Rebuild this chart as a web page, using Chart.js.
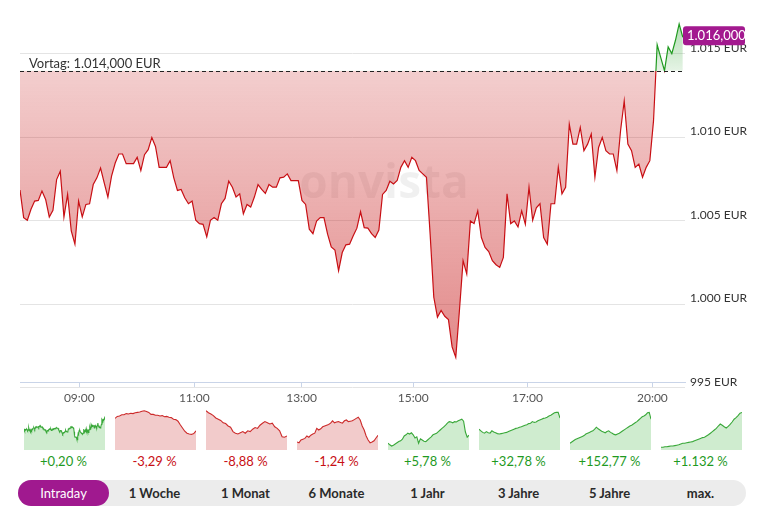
<!DOCTYPE html>
<html><head><meta charset="utf-8">
<script src="https://cdn.jsdelivr.net/npm/chart.js@4.4.0/dist/chart.umd.min.js"></script>
<style>
body{margin:0;background:#fff;font-family:Lato,'Open Sans',sans-serif;}
#wrap{position:relative;width:761px;height:513px;overflow:hidden;}
#main{position:absolute;left:0;top:0;}
.mini{position:absolute;top:410px;}
.row{position:absolute;left:18px;width:728px;display:flex;}
.row div{flex:1;text-align:center;}
#pct{top:452px;height:18px;font-size:13px;line-height:18px;}
#btns{top:480px;height:26px;background:#ececec;border-radius:13px;font-size:13px;line-height:26px;color:#2a2a2a;font-weight:bold;}
#btns .act{background:#a0198f;color:#fff;border-radius:13px;font-weight:normal;}
</style></head>
<body><div id="wrap">
<canvas id="main" width="761" height="410"></canvas>
<div id="pct" class="row"></div>
<div id="btns" class="row"></div>
</div>
<script>
const prevClose = 1014;
const lastPrice = 1016;
const intradayPrices = [
1006.85,1005.20,1005.04,1005.70,1006.19,1006.23,1006.79,1006.29,1005.24,1005.64,
1007.48,1007.98,1005.24,1006.59,1004.40,1003.61,1006.19,1005.24,1005.99,1006.03,
1007.18,1007.58,1008.17,1007.28,1006.43,1007.68,1008.47,1009.01,1009.01,1008.43,
1008.43,1008.43,1008.81,1008.02,1008.97,1009.27,1010.00,1009.46,1008.21,1008.21,
1008.21,1008.61,1007.58,1006.83,1006.89,1006.39,1006.03,1006.19,1005.04,1004.84,
1004.80,1004.05,1005.04,1005.20,1005.04,1006.03,1006.35,1007.38,1007.02,1006.43,
1006.62,1005.43,1005.99,1005.83,1006.43,1007.18,1006.89,1006.65,1007.18,1007.02,
1007.02,1007.58,1007.62,1007.82,1007.42,1007.42,1007.42,1006.23,1005.99,1004.51,
1004.24,1005.00,1005.20,1005.20,1004.21,1003.45,1003.26,1002.02,1003.11,1003.57,
1003.61,1004.11,1004.57,1005.55,1004.60,1004.57,1004.24,1004.01,1004.45,1006.59,
1006.83,1007.38,1007.22,1007.42,1008.21,1008.61,1008.21,1008.81,1008.61,1008.02,
1007.82,1007.62,1004.21,1000.43,999.24,999.64,999.29,999.09,997.46,996.83,
999.64,1002.62,1001.83,1005.00,1004.84,1005.60,1004.01,1003.41,1003.17,1002.62,
1002.38,1002.22,1002.82,1006.62,1004.84,1005.00,1004.64,1005.60,1004.80,1007.02,
1005.04,1005.79,1006.03,1004.01,1003.61,1006.03,1006.03,1008.21,1006.62,1007.02,
1010.79,1009.60,1009.60,1010.60,1009.21,1009.60,1010.20,1007.62,1009.40,1010.00,
1009.21,1009.01,1009.01,1008.02,1010.40,1012.18,1009.60,1009.21,1008.21,1008.41,
1007.62,1008.21,1008.61,1010.99,1015.55,1014.76,1014.00,1015.42,1015.02,1015.82,
1016.80,1016.00];
const xTickLabels = ['09:00','11:00','13:00','15:00','17:00','20:00'];
const xTickAt = [16.2, 47.6, 76.9, 107.4, 138.6, 172.7];
const yTicks = [995, 1000, 1005, 1010, 1015];

const periods = ['Intraday','1 Woche','1 Monat','6 Monate','1 Jahr','3 Jahre','5 Jahre','max.'];
const changes = ['+0,20 %','-3,29 %','-8,88 %','-1,24 %','+5,78 %','+32,78 %','+152,77 %','+1.132 %'];
// mini chart series (relative height in % of the mini chart box)
const week   = [79,84,85,88,88,91,90,92,91,93,94,95,97,98,96,94,89,89,87,87,85,86,83,84,82,81,77,76,72,63,55,47,42,40,39,41,48];
const month  = [98,93,90,86,80,77,74,68,66,60,57,46,42,40,43,46,42,48,46,52,56,54,62,67,71,68,65,67,58,54,48,33,32,35];
const sixMonths = [20,18,25,27,29,35,32,37,40,42,54,50,53,58,60,62,64,67,73,68,70,71,69,67,73,75,71,72,73,76,79,82,75,60,50,35,25,18,20,23,30,37];
const oneYear = [17,13,10,12,15,18,21,23,27,35,38,42,40,43,38,30,33,17,28,25,22,21,25,29,33,38,40,42,46,50,54,58,62,67,71,70,68,71,70,73,75,77,72,45,32,37];
const threeYears = [52,48,44,42,46,43,42,48,45,43,41,40,41,42,43,44,46,48,50,52,54,55,57,58,60,62,63,66,67,71,69,70,73,75,77,79,80,82,85,87,90,93,94,94,80];
const fiveYears = [17,20,23,26,28,30,32,34,36,40,42,44,46,48,52,57,53,50,47,45,43,46,48,44,42,39,38,40,42,45,48,51,54,57,60,62,65,68,71,75,79,83,85,88,93,94,77];
const maxSeries = [7,7,8,8,9,10,10,11,12,13,15,17,17,18,19,20,21,23,25,27,29,31,32,35,38,42,46,50,54,60,65,62,58,55,59,64,70,77,81,86,92,94];

const GREEN = '#1f9a1f', RED = '#c80f14';
const fmtNum = v => v >= 1000 ? Math.floor(v/1000) + '.' + String(Math.round(v % 1000)).padStart(3,'0') : String(v);

Chart.defaults.font.family = 'Lato, "Open Sans", sans-serif';
Chart.defaults.animation = false;

const overlay = {
  id: 'overlay',
  beforeDatasetsDraw(chart) {
    const c = chart.ctx;
    c.save();
    c.font = 'bold 46px "Open Sans"';
    c.fillStyle = 'rgba(0,0,0,0.06)';
    c.textAlign = 'center';
    c.textBaseline = 'alphabetic';
    c.fillText('onvista', 384, 198);
    c.restore();
  },
  afterDatasetsDraw(chart) {
    const c = chart.ctx, a = chart.chartArea, y = chart.scales.y;
    const py = Math.round(y.getPixelForValue(prevClose)) + 0.5;
    c.save();
    c.strokeStyle = '#222'; c.lineWidth = 1; c.setLineDash([4,3]);
    c.beginPath(); c.moveTo(a.left, py); c.lineTo(a.right, py); c.stroke();
    c.setLineDash([]);
    c.fillStyle = '#333'; c.font = '13px Lato';
    c.textAlign = 'left'; c.textBaseline = 'alphabetic';
    c.fillText('Vortag: ' + fmtNum(prevClose) + ',000 EUR', a.left + 9, py - 4);
    c.restore();
  },
  afterDraw(chart) {
    const c = chart.ctx, a = chart.chartArea, y = chart.scales.y;
    const py = y.getPixelForValue(lastPrice);
    c.save();
    c.fillStyle = '#a3198f';
    c.beginPath(); c.roundRect(a.right - 2, py - 11, 62, 19, 3); c.fill();
    c.fillStyle = '#fff'; c.font = '13px Lato';
    c.textAlign = 'left'; c.textBaseline = 'middle';
    c.fillText(fmtNum(lastPrice) + ',000', a.right + 2, py - 1);
    c.restore();
  }
};

const mainChart = new Chart(document.getElementById('main'), {
  type: 'line',
  data: {
    labels: intradayPrices.map((_, i) => i),
    datasets: [{
      data: intradayPrices.map((v, i) => ({x: i, y: v})),
      borderColor: RED, borderWidth: 1.2, pointRadius: 0, tension: 0,
      fill: {value: prevClose, above: 'rgba(40,160,40,0.3)', below: 'rgba(200,30,30,0.3)'}
    }]
  },
  options: {
    responsive: false,
    layout: {padding: {left: 20, top: 10, right: 0, bottom: 0}},
    plugins: {legend: {display: false}, tooltip: {enabled: false}},
    scales: {
      x: {
        type: 'linear', min: 0, max: 181.6,
        afterBuildTicks: s => { s.ticks = xTickAt.map(v => ({value: v})); },
        afterFit: s => { s.height = 28; },
        ticks: {autoSkip: false, maxRotation: 0, padding: 3, color: '#555', font: {size: 12},
                callback: (v, i) => xTickLabels[i]},
        grid: {drawOnChartArea: false, tickLength: 6, color: '#c9d4e8'},
        border: {display: true, color: '#c9d4e8'}
      },
      y: {
        position: 'right', min: 995.357, max: 1017.5,
        afterBuildTicks: s => { s.ticks = yTicks.map(v => ({value: v})); },
        afterFit: s => { s.width = 76; },
        ticks: {padding: 5, labelOffset: -6, color: '#333', font: {size: 12},
                callback: v => fmtNum(v) + ' EUR'},
        grid: {drawTicks: false, tickLength: 0, color: '#e4e4e4'},
        border: {display: false}
      }
    }
  },
  plugins: [overlay]
});

(function applyGradients(chart) {
  const a = chart.chartArea, c = chart.ctx;
  const py = chart.scales.y.getPixelForValue(prevClose);
  const t = (py - a.top) / (a.bottom - a.top);
  const fillG = c.createLinearGradient(0, a.top, 0, a.bottom);
  fillG.addColorStop(0, 'rgba(40,160,40,0.42)');
  fillG.addColorStop(t, 'rgba(40,160,40,0.12)');
  fillG.addColorStop(t, 'rgba(200,30,30,0.22)');
  fillG.addColorStop(1, 'rgba(200,30,30,0.55)');
  const lineG = c.createLinearGradient(0, a.top, 0, a.bottom);
  lineG.addColorStop(0, GREEN); lineG.addColorStop(t, GREEN);
  lineG.addColorStop(t, RED); lineG.addColorStop(1, RED);
  const ds = chart.data.datasets[0];
  ds.borderColor = lineG;
  ds.fill = {value: prevClose, above: fillG, below: fillG};
  chart.update('none');
})(mainChart);

// mini charts + labels
const miniSeries = [intradayPrices, week, month, sixMonths, oneYear, threeYears, fiveYears, maxSeries];
const miniRange = [[987.4, 1024.2],[0,100],[0,100],[0,100],[0,100],[0,100],[0,100],[0,100]];
const wrap = document.getElementById('wrap');
const pct = document.getElementById('pct');
const btns = document.getElementById('btns');
miniSeries.forEach((series, k) => {
  const up = changes[k].startsWith('+');
  const cv = document.createElement('canvas');
  cv.className = 'mini'; cv.width = 81; cv.height = 40;
  cv.style.left = (24 + 91 * k) + 'px';
  wrap.appendChild(cv);
  new Chart(cv, {
    type: 'line',
    data: {labels: series.map((_, i) => i),
      datasets: [{data: series, borderColor: up ? '#3aa83a' : '#cc2a2a', borderWidth: 1.1,
        backgroundColor: up ? '#cfeccf' : '#f2cbcb', fill: 'start', pointRadius: 0, tension: 0}]},
    options: {responsive: false, layout: {padding: 0},
      plugins: {legend: {display: false}, tooltip: {enabled: false}},
      scales: {x: {display: false}, y: {display: false, min: miniRange[k][0], max: miniRange[k][1]}}}
  });
  const p = document.createElement('div');
  p.textContent = changes[k];
  p.style.color = up ? '#1f9a1f' : '#c80f14';
  pct.appendChild(p);
  const b = document.createElement('div');
  b.textContent = periods[k];
  if (k === 0) b.className = 'act';
  btns.appendChild(b);
});
</script>
</body></html>
